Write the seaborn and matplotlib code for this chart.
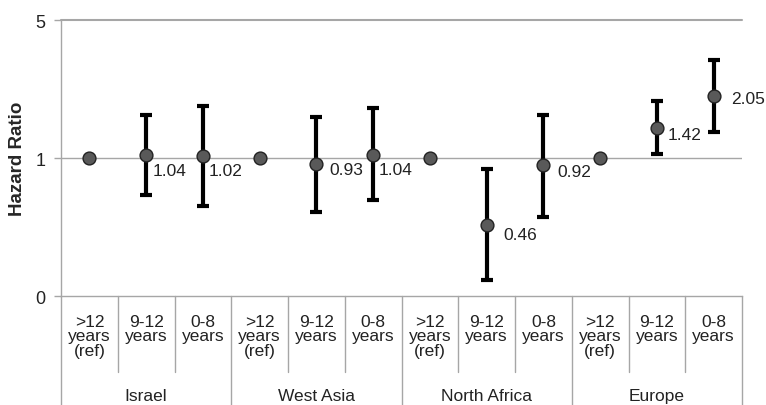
import numpy as np
import pandas as pd
import seaborn as sns
import matplotlib.pyplot as plt
from matplotlib.transforms import blended_transform_factory

regions = ['Israel', 'West Asia', 'North Africa', 'Europe']
durations = ['>12\nyears\n(ref)', '9-12\nyears', '0-8\nyears']
hazard_ratio = [1.00, 1.04, 1.02, 1.00, 0.93, 1.04, 1.00, 0.46, 0.92, 1.00, 1.42, 2.05]
ci_low = [np.nan, 0.65, 0.57, np.nan, 0.53, 0.61, np.nan, 0.24, 0.50, np.nan, 1.05, 1.35]
ci_high = [np.nan, 1.65, 1.83, np.nan, 1.62, 1.80, np.nan, 0.88, 1.66, np.nan, 1.94, 3.12]
# label offsets in pixels (dx right, dy down) as placed in the original
label_offsets = [None, (7, 16), (6, 14), None, (13, 5), (5, 15),
                 None, (17, 10), (14, 6), None, (11, 7), (17, 2)]

df = pd.DataFrame({
    'pos': np.arange(len(hazard_ratio)),
    'hr': hazard_ratio,
    'lo': ci_low,
    'hi': ci_high,
})

sns.set_style('white')
plt.rcParams['font.family'] = ['Liberation Sans', 'DejaVu Sans']

fig = plt.figure(figsize=(7.66, 4.06), dpi=100)
ax = fig.add_axes([61 / 766, 109 / 406, 681 / 766, 276 / 406])

grid_col = '#a6a6a6'
txt_col = '#222222'
fs = 12.5
ax.set_yscale('log')
ax.set_ylim(0.2, 5)
ax.set_xlim(-0.5, 11.5)
ax.axhline(1, color=grid_col, lw=1, zorder=0)
ax.axhline(5, color=grid_col, lw=1.5, zorder=0, clip_on=False)

yerr = [df['hr'] - df['lo'], df['hi'] - df['hr']]
ax.errorbar(df['pos'], df['hr'], yerr=yerr, fmt='none', ecolor='black',
            elinewidth=3, capsize=4.5, capthick=3, zorder=2)
sns.scatterplot(data=df, x='pos', y='hr', ax=ax, s=85, color='#595959',
                edgecolor='#222222', linewidth=1, zorder=3, legend=False)

for i, off in enumerate(label_offsets):
    if off is None:
        continue
    ax.annotate(f'{hazard_ratio[i]:.2f}', (i, hazard_ratio[i]),
                xytext=(off[0], -off[1]), textcoords='offset pixels',
                ha='left', va='center', fontsize=fs, color=txt_col)

ax.set_yticks([0.2, 1, 5])
ax.set_yticklabels(['0', '1', '5'])
ax.yaxis.set_minor_locator(plt.NullLocator())
ax.tick_params(axis='y', which='major', left=True, length=5, width=1,
               color=grid_col, pad=6, labelsize=fs + 0.5, labelcolor=txt_col)
ax.set_xticks([])
ax.set_xlabel('')
ax.set_ylabel('Hazard Ratio', fontsize=13.5, fontweight='bold', labelpad=7)

for side in ['top', 'right']:
    ax.spines[side].set_visible(False)
for side in ['left', 'bottom']:
    ax.spines[side].set_color(grid_col)
    ax.spines[side].set_linewidth(1)

trans = blended_transform_factory(ax.transData, ax.transAxes)
n = len(durations)
for i in range(len(hazard_ratio)):
    ax.text(i, -0.066, durations[i % n], transform=trans, ha='center',
            va='top', fontsize=fs, linespacing=0.93, color=txt_col)
for b in np.arange(-0.5, len(hazard_ratio), 1.0):
    group_edge = int(b + 0.5) % n == 0
    y_end = -0.40 if group_edge else -0.275
    ax.plot([b, b], [0, y_end], transform=trans, color=grid_col, lw=1,
            clip_on=False)
for g, name in enumerate(regions):
    ax.text(g * n + 1, -0.362, name, transform=trans, ha='center',
            va='center', fontsize=fs, color=txt_col)

fig.savefig('out.png', dpi=100)
